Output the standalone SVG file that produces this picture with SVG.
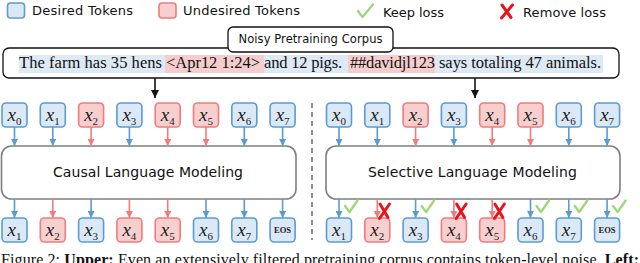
<svg xmlns="http://www.w3.org/2000/svg" width="640" height="263" viewBox="0 0 640 263">
<defs>
<style>
.sans{font-family:"DejaVu Sans","Liberation Sans",sans-serif;fill:#111}
.serif{font-family:"Liberation Serif","Times New Roman",serif;fill:#111}
.tokB{fill:#dbe8f5;stroke:#5b9bd5;stroke-width:1.6}
.tokR{fill:#f8cfcf;stroke:#f27b7b;stroke-width:1.6}
.lab{font-family:"Liberation Serif","Times New Roman",serif;font-style:italic;font-size:19px;fill:#222}
.sub{font-style:normal;font-size:11px}
.eos{font-family:"Liberation Serif","Times New Roman",serif;font-weight:bold;font-size:8.5px;fill:#222}
.model{fill:#fff;stroke:#7f7f7f;stroke-width:1.6}
.aB{stroke:#5b9bd5;stroke-width:1.6;fill:none;marker-end:url(#mB)}
.aR{stroke:#f27b7b;stroke-width:1.6;fill:none;marker-end:url(#mR)}
.aK{stroke:#111;stroke-width:1.6;fill:none;marker-end:url(#mK)}
.chk{stroke:#9fd67a;stroke-width:2.3;fill:none;stroke-linecap:round;stroke-linejoin:round}
.crs{stroke:#e8141c;stroke-width:3;fill:none;stroke-linecap:round}
.hlB{fill:#dde9f5}
.hlR{fill:#f6cdcd}
</style>
<marker id="mB" markerUnits="userSpaceOnUse" markerWidth="7" markerHeight="7" refX="7" refY="3.5" orient="auto"><path d="M0,0 L7,3.5 L0,7 z" fill="#5b9bd5"/></marker>
<marker id="mR" markerUnits="userSpaceOnUse" markerWidth="7" markerHeight="7" refX="7" refY="3.5" orient="auto"><path d="M0,0 L7,3.5 L0,7 z" fill="#f27b7b"/></marker>
<marker id="mK" markerUnits="userSpaceOnUse" markerWidth="8" markerHeight="8" refX="8" refY="4" orient="auto"><path d="M0,0 L8,4 L0,8 z" fill="#111"/></marker>
</defs>
<rect width="640" height="263" fill="#fff"/>

<!-- legend -->
<g id="legend-desired"><rect x="7.5" y="3" width="17" height="15" rx="3" class="tokB"/><text x="32" y="15" class="sans" font-size="13" textLength="101">Desired Tokens</text></g>
<g id="legend-undesired"><rect x="159" y="3" width="17" height="15" rx="3" class="tokR"/><text x="183" y="15" class="sans" font-size="13" textLength="117">Undesired Tokens</text></g>
<g id="legend-keep"><path d="M358,11 L362.5,17 L373,4.5" class="chk"/><text x="383" y="17" class="sans" font-size="13" textLength="61">Keep loss</text></g>
<g id="legend-remove"><path d="M502,5 L511,17.5 M512.5,5 L501.5,18" class="crs"/><text x="523" y="17" class="sans" font-size="13" textLength="83">Remove loss</text></g>

<!-- corpus -->
<g id="corpus">
<rect x="3" y="48" width="616" height="30" rx="6" fill="#fff" stroke="#111" stroke-width="1.3"/>
<rect x="19" y="55" width="146" height="18" class="hlB"/>
<rect x="165" y="55" width="99" height="18" class="hlR"/>
<rect x="264" y="55" width="84" height="18" class="hlB"/>
<rect x="348" y="55" width="87" height="18" class="hlR"/>
<rect x="435" y="55" width="168" height="18" class="hlB"/>
<text x="19" y="68" class="serif" font-size="16.5" textLength="143">The farm has 35 hens</text>
<text x="166" y="68" class="serif" font-size="16.5" textLength="94">&lt;Apr12 1:24&gt;</text>
<text x="264" y="68" class="serif" font-size="16.5" textLength="78">and 12 pigs.</text>
<text x="350" y="68" class="serif" font-size="16.5" textLength="85">##davidjl123</text>
<text x="439" y="68" class="serif" font-size="16.5" textLength="162">says totaling 47 animals.</text>
</g>
<g id="corpus-title">
<rect x="228" y="27" width="165" height="25" rx="5" fill="#fff" stroke="#111" stroke-width="1.3"/>
<text x="310.5" y="43" class="sans" font-size="11.5" text-anchor="middle" textLength="144">Noisy Pretraining Corpus</text>
</g>

<!-- models -->
<g id="clm"><rect x="1.5" y="146" width="294.5" height="53" rx="10" class="model"/><text x="148" y="177" class="sans" font-size="14" text-anchor="middle" textLength="190">Causal Language Modeling</text></g>
<g id="slm"><rect x="326" y="146" width="294" height="53" rx="10" class="model"/><text x="472.5" y="177" class="sans" font-size="14" text-anchor="middle" textLength="209">Selective Language Modeling</text></g>

<!-- left input tokens -->
<g id="L-in0"><rect x="2" y="103" width="25" height="24" rx="4" class="tokB"/><text x="14.5" y="121" class="lab" text-anchor="middle">x<tspan class="sub" dy="3.5">0</tspan></text></g>
<g id="L-in1"><rect x="40.3" y="103" width="25" height="24" rx="4" class="tokB"/><text x="52.8" y="121" class="lab" text-anchor="middle">x<tspan class="sub" dy="3.5">1</tspan></text></g>
<g id="L-in2"><rect x="78.6" y="103" width="25" height="24" rx="4" class="tokR"/><text x="91.1" y="121" class="lab" text-anchor="middle">x<tspan class="sub" dy="3.5">2</tspan></text></g>
<g id="L-in3"><rect x="116.9" y="103" width="25" height="24" rx="4" class="tokB"/><text x="129.4" y="121" class="lab" text-anchor="middle">x<tspan class="sub" dy="3.5">3</tspan></text></g>
<g id="L-in4"><rect x="155.2" y="103" width="25" height="24" rx="4" class="tokR"/><text x="167.7" y="121" class="lab" text-anchor="middle">x<tspan class="sub" dy="3.5">4</tspan></text></g>
<g id="L-in5"><rect x="193.5" y="103" width="25" height="24" rx="4" class="tokR"/><text x="206" y="121" class="lab" text-anchor="middle">x<tspan class="sub" dy="3.5">5</tspan></text></g>
<g id="L-in6"><rect x="231.8" y="103" width="25" height="24" rx="4" class="tokB"/><text x="244.3" y="121" class="lab" text-anchor="middle">x<tspan class="sub" dy="3.5">6</tspan></text></g>
<g id="L-in7"><rect x="270.1" y="103" width="25" height="24" rx="4" class="tokB"/><text x="282.6" y="121" class="lab" text-anchor="middle">x<tspan class="sub" dy="3.5">7</tspan></text></g>

<!-- left output tokens -->
<g id="L-out1"><rect x="2" y="218" width="25" height="24" rx="4" class="tokB"/><text x="14.5" y="236" class="lab" text-anchor="middle">x<tspan class="sub" dy="3.5">1</tspan></text></g>
<g id="L-out2"><rect x="40.3" y="218" width="25" height="24" rx="4" class="tokR"/><text x="52.8" y="236" class="lab" text-anchor="middle">x<tspan class="sub" dy="3.5">2</tspan></text></g>
<g id="L-out3"><rect x="78.6" y="218" width="25" height="24" rx="4" class="tokB"/><text x="91.1" y="236" class="lab" text-anchor="middle">x<tspan class="sub" dy="3.5">3</tspan></text></g>
<g id="L-out4"><rect x="116.9" y="218" width="25" height="24" rx="4" class="tokR"/><text x="129.4" y="236" class="lab" text-anchor="middle">x<tspan class="sub" dy="3.5">4</tspan></text></g>
<g id="L-out5"><rect x="155.2" y="218" width="25" height="24" rx="4" class="tokR"/><text x="167.7" y="236" class="lab" text-anchor="middle">x<tspan class="sub" dy="3.5">5</tspan></text></g>
<g id="L-out6"><rect x="193.5" y="218" width="25" height="24" rx="4" class="tokB"/><text x="206" y="236" class="lab" text-anchor="middle">x<tspan class="sub" dy="3.5">6</tspan></text></g>
<g id="L-out7"><rect x="231.8" y="218" width="25" height="24" rx="4" class="tokB"/><text x="244.3" y="236" class="lab" text-anchor="middle">x<tspan class="sub" dy="3.5">7</tspan></text></g>
<g id="L-outEOS"><rect x="270.1" y="218" width="25" height="24" rx="4" class="tokB"/><text x="282.6" y="233" class="eos" text-anchor="middle">EOS</text></g>

<!-- right input tokens -->
<g id="R-in0"><rect x="326.5" y="103" width="25" height="24" rx="4" class="tokB"/><text x="339" y="121" class="lab" text-anchor="middle">x<tspan class="sub" dy="3.5">0</tspan></text></g>
<g id="R-in1"><rect x="364.8" y="103" width="25" height="24" rx="4" class="tokB"/><text x="377.3" y="121" class="lab" text-anchor="middle">x<tspan class="sub" dy="3.5">1</tspan></text></g>
<g id="R-in2"><rect x="403.1" y="103" width="25" height="24" rx="4" class="tokR"/><text x="415.6" y="121" class="lab" text-anchor="middle">x<tspan class="sub" dy="3.5">2</tspan></text></g>
<g id="R-in3"><rect x="441.4" y="103" width="25" height="24" rx="4" class="tokB"/><text x="453.9" y="121" class="lab" text-anchor="middle">x<tspan class="sub" dy="3.5">3</tspan></text></g>
<g id="R-in4"><rect x="479.7" y="103" width="25" height="24" rx="4" class="tokR"/><text x="492.2" y="121" class="lab" text-anchor="middle">x<tspan class="sub" dy="3.5">4</tspan></text></g>
<g id="R-in5"><rect x="518" y="103" width="25" height="24" rx="4" class="tokR"/><text x="530.5" y="121" class="lab" text-anchor="middle">x<tspan class="sub" dy="3.5">5</tspan></text></g>
<g id="R-in6"><rect x="556.3" y="103" width="25" height="24" rx="4" class="tokB"/><text x="568.8" y="121" class="lab" text-anchor="middle">x<tspan class="sub" dy="3.5">6</tspan></text></g>
<g id="R-in7"><rect x="594.6" y="103" width="25" height="24" rx="4" class="tokB"/><text x="607.1" y="121" class="lab" text-anchor="middle">x<tspan class="sub" dy="3.5">7</tspan></text></g>

<!-- right output tokens -->
<g id="R-out1"><rect x="326.5" y="218" width="25" height="24" rx="4" class="tokB"/><text x="339" y="236" class="lab" text-anchor="middle">x<tspan class="sub" dy="3.5">1</tspan></text></g>
<g id="R-out2"><rect x="364.8" y="218" width="25" height="24" rx="4" class="tokR"/><text x="377.3" y="236" class="lab" text-anchor="middle">x<tspan class="sub" dy="3.5">2</tspan></text></g>
<g id="R-out3"><rect x="403.1" y="218" width="25" height="24" rx="4" class="tokB"/><text x="415.6" y="236" class="lab" text-anchor="middle">x<tspan class="sub" dy="3.5">3</tspan></text></g>
<g id="R-out4"><rect x="441.4" y="218" width="25" height="24" rx="4" class="tokR"/><text x="453.9" y="236" class="lab" text-anchor="middle">x<tspan class="sub" dy="3.5">4</tspan></text></g>
<g id="R-out5"><rect x="479.7" y="218" width="25" height="24" rx="4" class="tokR"/><text x="492.2" y="236" class="lab" text-anchor="middle">x<tspan class="sub" dy="3.5">5</tspan></text></g>
<g id="R-out6"><rect x="518" y="218" width="25" height="24" rx="4" class="tokB"/><text x="530.5" y="236" class="lab" text-anchor="middle">x<tspan class="sub" dy="3.5">6</tspan></text></g>
<g id="R-out7"><rect x="556.3" y="218" width="25" height="24" rx="4" class="tokB"/><text x="568.8" y="236" class="lab" text-anchor="middle">x<tspan class="sub" dy="3.5">7</tspan></text></g>
<g id="R-outEOS"><rect x="594.6" y="218" width="25" height="24" rx="4" class="tokB"/><text x="607.1" y="233" class="eos" text-anchor="middle">EOS</text></g>

<!-- connectors -->
<g id="connectors">
<line x1="155" y1="78" x2="155" y2="98" class="aK"/>
<line x1="475" y1="78" x2="475" y2="98" class="aK"/>
<line x1="312" y1="103" x2="312" y2="240" stroke="#444" stroke-width="1.2" stroke-dasharray="5,4"/>
<line x1="14.5" y1="127" x2="14.5" y2="146" class="aB"/>
<line x1="52.8" y1="127" x2="52.8" y2="146" class="aB"/>
<line x1="91.1" y1="127" x2="91.1" y2="146" class="aR"/>
<line x1="129.4" y1="127" x2="129.4" y2="146" class="aB"/>
<line x1="167.7" y1="127" x2="167.7" y2="146" class="aR"/>
<line x1="206" y1="127" x2="206" y2="146" class="aR"/>
<line x1="244.3" y1="127" x2="244.3" y2="146" class="aB"/>
<line x1="282.6" y1="127" x2="282.6" y2="146" class="aB"/>
<line x1="14.5" y1="199" x2="14.5" y2="218" class="aB"/>
<line x1="52.8" y1="199" x2="52.8" y2="218" class="aR"/>
<line x1="91.1" y1="199" x2="91.1" y2="218" class="aB"/>
<line x1="129.4" y1="199" x2="129.4" y2="218" class="aR"/>
<line x1="167.7" y1="199" x2="167.7" y2="218" class="aR"/>
<line x1="206" y1="199" x2="206" y2="218" class="aB"/>
<line x1="244.3" y1="199" x2="244.3" y2="218" class="aB"/>
<line x1="282.6" y1="199" x2="282.6" y2="218" class="aB"/>
<line x1="339" y1="127" x2="339" y2="146" class="aB"/>
<line x1="377.3" y1="127" x2="377.3" y2="146" class="aB"/>
<line x1="415.6" y1="127" x2="415.6" y2="146" class="aR"/>
<line x1="453.9" y1="127" x2="453.9" y2="146" class="aB"/>
<line x1="492.2" y1="127" x2="492.2" y2="146" class="aR"/>
<line x1="530.5" y1="127" x2="530.5" y2="146" class="aR"/>
<line x1="568.8" y1="127" x2="568.8" y2="146" class="aB"/>
<line x1="607.1" y1="127" x2="607.1" y2="146" class="aB"/>
<line x1="339" y1="199" x2="339" y2="218" class="aB"/>
<line x1="377.3" y1="199" x2="377.3" y2="218" class="aR"/>
<line x1="415.6" y1="199" x2="415.6" y2="218" class="aB"/>
<line x1="453.9" y1="199" x2="453.9" y2="218" class="aR"/>
<line x1="492.2" y1="199" x2="492.2" y2="218" class="aR"/>
<line x1="530.5" y1="199" x2="530.5" y2="218" class="aB"/>
<line x1="568.8" y1="199" x2="568.8" y2="218" class="aB"/>
<line x1="607.1" y1="199" x2="607.1" y2="218" class="aB"/>
</g>

<!-- loss marks -->
<g id="loss-marks">
<path d="M345,206 L349.5,212 L357.5,200.5" class="chk"/>
<path d="M380,204 L388,217.5 M389.5,204 L379.5,218.5" class="crs"/>
<path d="M421.6,206 L426.1,212 L434.1,200.5" class="chk"/>
<path d="M456.6,204 L464.6,217.5 M466.1,204 L456.1,218.5" class="crs"/>
<path d="M494.9,204 L502.9,217.5 M504.4,204 L494.4,218.5" class="crs"/>
<path d="M536.5,206 L541,212 L549,200.5" class="chk"/>
<path d="M574.8,206 L579.3,212 L587.3,200.5" class="chk"/>
<path d="M613.1,206 L617.6,212 L625.6,200.5" class="chk"/>
</g>

<!-- caption -->
<text x="1" y="265" class="serif" font-size="16" textLength="638">Figure 2: <tspan font-weight="bold">Upper:</tspan> Even an extensively filtered pretraining corpus contains token-level noise. <tspan font-weight="bold">Left:</tspan></text>
</svg>
